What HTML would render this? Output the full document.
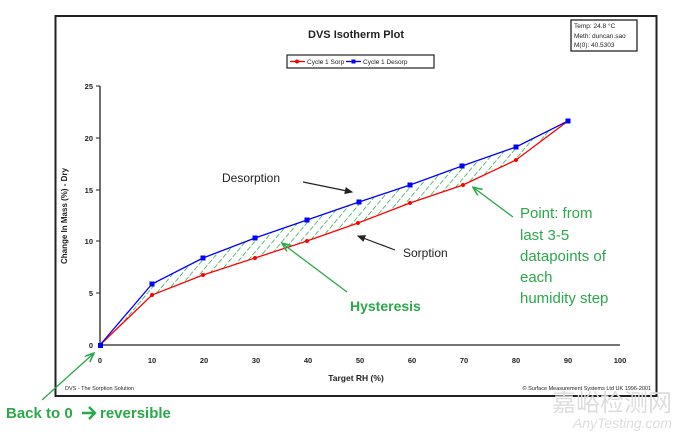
<!DOCTYPE html>
<html><head><style>
body{margin:0;background:#fff;}
svg{display:block;font-family:"Liberation Sans",Arial,sans-serif;}
</style></head><body>
<svg width="680" height="432" viewBox="0 0 680 432" xmlns="http://www.w3.org/2000/svg">
<defs>
<pattern id="h" width="7" height="7" patternUnits="userSpaceOnUse" patternTransform="rotate(40)">
<line x1="0" y1="0" x2="0" y2="5" stroke="#2aa84a" stroke-width="1.5"/>
</pattern>
<marker id="ak" markerWidth="8" markerHeight="8" refX="6" refY="3" orient="auto"><path d="M0,0 L7,3 L0,6 z" fill="#222"/></marker>
<marker id="ag" markerWidth="8" markerHeight="8" refX="6" refY="3" orient="auto"><path d="M0,0 L7,3 L0,6" fill="none" stroke="#2aa84a" stroke-width="1.2"/></marker>
</defs>
<rect x="55.5" y="16" width="601" height="380" fill="#fff" stroke="#222" stroke-width="2"/>
<text x="356" y="38" font-size="11" font-weight="bold" text-anchor="middle" fill="#222">DVS Isotherm Plot</text>
<rect x="571" y="20" width="66" height="31" fill="#fff" stroke="#222" stroke-width="1.3"/>
<text x="574" y="28" font-size="6.5" fill="#222">Temp: 24.8 °C</text>
<text x="574" y="38" font-size="6.5" fill="#222">Meth: duncan.sao</text>
<text x="574" y="47" font-size="6.5" fill="#222">M(0): 40.5303</text>
<rect x="287" y="55" width="147" height="13" fill="#fff" stroke="#222" stroke-width="1.2"/>
<line x1="290" y1="61.5" x2="305" y2="61.5" stroke="red" stroke-width="1.3"/><circle cx="297" cy="61.5" r="2" fill="red"/>
<text x="307" y="64" font-size="6.5" fill="#222">Cycle 1 Sorp</text>
<line x1="346" y1="61.5" x2="361" y2="61.5" stroke="blue" stroke-width="1.3"/><rect x="351.5" y="59.5" width="4" height="4" fill="blue"/>
<text x="363" y="64" font-size="6.5" fill="#222">Cycle 1 Desorp</text>
<polygon points="100,345 152,284 203,258 255,238 307,220 359,202 410,185 462,166 516,147 568,121 516,160 463,185 410,203 358,223 307,241 255,258 203,275 152,295" fill="url(#h)"/>
<line x1="100" y1="86" x2="100" y2="345" stroke="#222" stroke-width="1.3"/>
<line x1="100" y1="345" x2="620" y2="345" stroke="#222" stroke-width="1.3"/>
<g stroke="#222" stroke-width="1">
<line x1="96" y1="86" x2="100" y2="86"/><line x1="96" y1="138" x2="100" y2="138"/><line x1="96" y1="190" x2="100" y2="190"/><line x1="96" y1="241" x2="100" y2="241"/><line x1="96" y1="293" x2="100" y2="293"/>
</g>
<g font-size="7.5" font-weight="bold" fill="#222" text-anchor="end">
<text x="93" y="89">25</text><text x="93" y="141">20</text><text x="93" y="193">15</text><text x="93" y="244">10</text><text x="93" y="296">5</text><text x="93" y="348">0</text>
</g>
<g font-size="7.5" font-weight="bold" fill="#222" text-anchor="middle">
<text x="100" y="363">0</text><text x="152" y="363">10</text><text x="204" y="363">20</text><text x="256" y="363">30</text><text x="308" y="363">40</text><text x="360" y="363">50</text><text x="412" y="363">60</text><text x="464" y="363">70</text><text x="516" y="363">80</text><text x="568" y="363">90</text><text x="620" y="363">100</text>
</g>
<text x="356" y="381" font-size="8.5" font-weight="bold" text-anchor="middle" fill="#222">Target RH (%)</text>
<text transform="translate(67,216) rotate(-90)" font-size="8" font-weight="bold" text-anchor="middle" fill="#222">Change In Mass (%) - Dry</text>
<text x="65" y="390" font-size="5.5" fill="#222">DVS - The Sorption Solution</text>
<text x="651" y="390" font-size="5.5" fill="#222" text-anchor="end">© Surface Measurement Systems Ltd UK 1996-2001</text>
<polyline points="100,345 152,295 203,275 255,258 307,241 358,223 410,203 463,185 516,160 568,121" fill="none" stroke="red" stroke-width="1.3"/>
<polyline points="100,345 152,284 203,258 255,238 307,220 359,202 410,185 462,166 516,147 568,121" fill="none" stroke="blue" stroke-width="1.3"/>
<g fill="red"><circle cx="152" cy="295" r="2"/><circle cx="203" cy="275" r="2"/><circle cx="255" cy="258" r="2"/><circle cx="307" cy="241" r="2"/><circle cx="358" cy="223" r="2"/><circle cx="410" cy="203" r="2"/><circle cx="463" cy="185" r="2"/><circle cx="516" cy="160" r="2"/></g>
<g fill="blue"><rect x="98" y="343" width="5" height="5"/><rect x="149.5" y="281.5" width="5" height="5"/><rect x="200.5" y="255.5" width="5" height="5"/><rect x="252.5" y="235.5" width="5" height="5"/><rect x="304.5" y="217.5" width="5" height="5"/><rect x="356.5" y="199.5" width="5" height="5"/><rect x="407.5" y="182.5" width="5" height="5"/><rect x="459.5" y="163.5" width="5" height="5"/><rect x="513.5" y="144.5" width="5" height="5"/><rect x="565.5" y="118.5" width="5" height="5"/></g>
<text x="222" y="182" font-size="12" fill="#222">Desorption</text>
<line x1="303" y1="182" x2="352" y2="192" stroke="#222" stroke-width="1.2" marker-end="url(#ak)"/>
<text x="403" y="257" font-size="12" fill="#222">Sorption</text>
<line x1="395" y1="250" x2="358" y2="236" stroke="#222" stroke-width="1.2" marker-end="url(#ak)"/>
<text x="350" y="311" font-size="14" font-weight="bold" fill="#2aa84a">Hysteresis</text>
<line x1="347" y1="292" x2="283" y2="244" stroke="#2aa84a" stroke-width="1.3" marker-end="url(#ag)"/>
<g font-size="15" fill="#2aa84a">
<text x="520" y="218">Point: from</text><text x="520" y="240">last 3-5</text><text x="520" y="261">datapoints of</text><text x="520" y="282">each</text><text x="520" y="303">humidity step</text>
</g>
<line x1="513" y1="217" x2="474" y2="188" stroke="#2aa84a" stroke-width="1.3" marker-end="url(#ag)"/>
<line x1="42" y1="400" x2="93" y2="354" stroke="#2aa84a" stroke-width="1.3" marker-end="url(#ag)"/>
<text x="6" y="418" font-size="15" font-weight="bold" fill="#2aa84a">Back to 0</text>
<path d="M82,413 L94,413 M89,407 L95,413 L89,419" fill="none" stroke="#2aa84a" stroke-width="2.4"/>
<text x="100" y="418" font-size="15" font-weight="bold" fill="#2aa84a">reversible</text>
<text x="672" y="411" font-size="24" text-anchor="end" fill="#ddd" font-family="Noto Sans CJK SC,sans-serif">嘉峪检测网</text>
<text x="672" y="428" font-size="14" font-style="italic" text-anchor="end" fill="#ddd">AnyTesting.com</text>
</svg>
</body></html>
